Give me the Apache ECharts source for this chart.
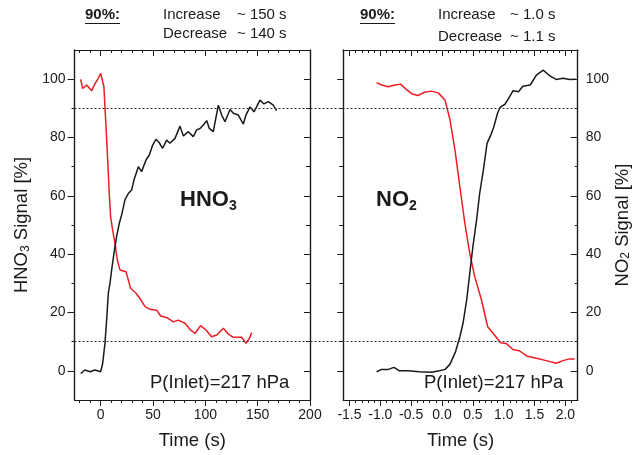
<!DOCTYPE html>
<html>
<head>
<meta charset="utf-8">
<script src="https://cdn.jsdelivr.net/npm/echarts@6/dist/echarts.min.js"></script>
<style>html,body{margin:0;padding:0;background:#fff;}#c{width:633px;height:455px;}</style>
</head>
<body>
<div id="c"></div>
<script>
// ---- data ----
const hno3DecT = [-19.1,-17.2,-13.4,-8.6,-5.4,-2.3,0,1.9,3.1,5.1,6.7,8.2,9.5,11.4,13.7,15.9,18.4,24.2,28.6,33.8,37.6,42.4,47.1,53.5,57.3,63,69.4,74.2,80.6,85.4,90.1,95.5,100.6,106,110.8,117.2,122,126.8,134.7,138.8,142,144.3];
const hno3DecV = [99.9,96.8,98,96,98.5,100.3,102,101.4,97.4,83.7,72.3,60.8,52.8,48.3,43.7,38,34.6,34,28.3,26.6,24.8,22,21.1,20.8,18.8,18.3,16.8,17.4,16.3,14.2,12.8,15.5,14,11.7,12.3,14.6,12.6,11.5,11.5,9.4,11.1,13.1];
const hno3IncT = [-19.1,-15,-10.2,-5.4,0,1.9,4.1,5.7,7.3,8.9,10.5,12.7,15.2,17.8,20,23.2,26.4,29.6,31.8,36,39.1,43.3,46.5,49.7,52.8,56,59.2,63,66.2,71,75.8,79,83.7,88.5,91.7,94.9,98.1,101.3,103.8,107.6,112.4,115.6,118.8,123.6,126.8,131.5,136.3,138.8,142.7,146.5,152.2,156,160.2,164.9,168.1];
const hno3IncV = [-0.9,0.3,-0.3,0.3,-0.3,2.5,9.4,17.4,26.6,30,34.6,40.3,46,50.6,53.4,58.6,60.8,62,65.4,70,68.3,72.3,74,77.4,79.4,78.2,76.3,79.1,78,79.7,83.9,80.5,82,80.3,82.6,83.1,84.3,85.8,83.1,82,91.1,87.7,85.4,89.6,88.3,87.7,84.6,87.7,90.5,88.8,92.8,91.5,92.3,91.1,89.2];
const no2DecT = [-1.06,-0.98,-0.87,-0.76,-0.67,-0.57,-0.48,-0.39,-0.29,-0.17,-0.06,0.05,0.13,0.21,0.29,0.37,0.45,0.53,0.64,0.74,0.85,0.95,1.04,1.15,1.26,1.37,1.53,1.69,1.85,1.96,2.07,2.15];
const no2DecV = [98.8,98,97.4,98,98.3,96.3,94.9,94.4,95.5,95.9,95.3,92.8,86,75.7,63.1,50.6,40.3,32.3,24.3,15.1,12.3,9.6,9.4,7.3,6.8,5.1,4.3,3.5,2.6,3.5,4.1,4.1];
const no2IncT = [-1.06,-0.98,-0.87,-0.78,-0.69,-0.55,-0.37,-0.17,-0.04,0.05,0.13,0.22,0.29,0.34,0.40,0.45,0.50,0.56,0.61,0.67,0.73,0.79,0.84,0.90,0.94,1.02,1.08,1.15,1.24,1.31,1.43,1.53,1.64,1.75,1.85,1.96,2.07,2.17];
const no2IncV = [-0.3,0.5,0.5,1.2,0,0,-0.3,-0.5,0,0.5,2.3,6.6,11.7,16.3,24.3,33.4,42.5,51.7,60.8,68.8,78,80.8,83.7,88.3,90.3,91.4,93.4,96,95.7,97.6,98,101.4,103.1,101.1,99.9,100.3,99.9,100];
const refLevels = [90, 10];

const leftMajorX = [0,50,100,150,200];
const leftMinorX = [-20,-10,10,20,30,40,60,70,80,90,110,120,130,140,160,170,180,190];
const rightMajorX = [-1.5,-1.0,-0.5,0.0,0.5,1.0,1.5,2.0];
const rightMinorX = [-1.4,-1.3,-1.2,-1.1,-0.9,-0.8,-0.7,-0.6,-0.4,-0.3,-0.2,-0.1,0.1,0.2,0.3,0.4,0.6,0.7,0.8,0.9,1.1,1.2,1.3,1.4,1.6,1.7,1.8,1.9,2.1];
const majorY = [0,20,40,60,80,100];
const minorY = [10,30,50,70,90];

// ---- chart ----
const FONT = 'Liberation Sans, Arial, sans-serif';
const INK = '#1a1a1a';
const RED = '#ee1c24';
const zip = (a, b) => a.map((v, i) => [v, b[i]]);

function tickAxis(grid, pos, range, ticks, len, inside, labels, extra) {
  return Object.assign({
    type: 'value', gridIndex: grid, position: pos, min: range[0], max: range[1],
    axisLine: { show: true, onZero: false, lineStyle: { color: INK, width: 1.2 } },
    axisTick: { show: true, inside: inside, length: len, customValues: ticks, lineStyle: { color: INK, width: 1 } },
    axisLabel: labels ? Object.assign({ show: true, customValues: ticks, color: INK, fontSize: 14, fontFamily: FONT }, labels) : { show: false },
    splitLine: { show: false }
  }, extra || {});
}

const gL = { left: 74.5, top: 50, width: 235.5, height: 350 };
const gR = { left: 343.3, top: 50, width: 235, height: 350 };
const gAll = { left: 74.5, top: 50, width: 504, height: 350 };
const xL = [-25, 200], xR = [-1.6, 2.2], yR = [-10, 110];

const nameStyle = { fontSize: 18.5, fontFamily: FONT, color: INK, rich: { sub: { fontSize: 12, fontFamily: FONT, color: INK, verticalAlign: 'bottom', padding: [7, 0, 0, 0] } } };

const xAxes = [
  tickAxis(0, 'bottom', xL, leftMajorX, 6, false, { margin: 8 }, { name: 'Time (s)', nameLocation: 'middle', nameGap: 31, nameTextStyle: nameStyle }),
  tickAxis(0, 'bottom', xL, leftMinorX, 3, false, null),
  tickAxis(0, 'top', xL, leftMajorX, 6, true, null),
  tickAxis(0, 'top', xL, leftMinorX, 3, true, null),
  tickAxis(1, 'bottom', xR, rightMajorX, 6, false, { margin: 8, formatter: v => v.toFixed(1) }, { name: 'Time (s)', nameLocation: 'middle', nameGap: 31, nameTextStyle: nameStyle }),
  tickAxis(1, 'bottom', xR, rightMinorX, 3, false, null),
  tickAxis(1, 'top', xR, rightMajorX, 6, true, null),
  tickAxis(1, 'top', xR, rightMinorX, 3, true, null),
  { type: 'value', gridIndex: 2, min: 0, max: 1, show: false }
];
const yAxes = [
  tickAxis(0, 'left', yR, majorY, 7, false, { margin: 9 }, { name: 'HNO{sub|3} Signal [%]', nameLocation: 'middle', nameGap: 43, nameTextStyle: nameStyle }),
  tickAxis(0, 'left', yR, minorY, 3, false, null),
  tickAxis(0, 'right', yR, majorY, 6, true, null),
  tickAxis(0, 'right', yR, minorY, 4, true, null),
  tickAxis(1, 'left', yR, majorY, 6, false, null),
  tickAxis(1, 'left', yR, minorY, 4, false, null),
  tickAxis(1, 'right', yR, majorY, 7, true, { margin: 8 }, { name: 'NO{sub|2} Signal [%]', nameLocation: 'middle', nameGap: 33, nameRotate: 90, nameTextStyle: nameStyle }),
  tickAxis(1, 'right', yR, minorY, 3, true, null),
  { type: 'value', gridIndex: 2, min: yR[0], max: yR[1], show: false }
];

function line(xi, yi, data, color) {
  return { type: 'line', xAxisIndex: xi, yAxisIndex: yi, data: data, showSymbol: false, symbol: 'none', silent: true, animation: false,
    lineStyle: { color: color, width: 1.5 } };
}

const txt = { fontSize: 15, fontFamily: FONT, fill: INK };
const big = { fontSize: 22, fontWeight: 'bold', fontFamily: FONT, fill: INK,
  rich: { s: { fontSize: 14, fontWeight: 'bold', fontFamily: FONT, fill: INK, padding: [13, 0, 0, 0] } } };
const option = {
  animation: false,
  backgroundColor: '#fff',
  grid: [gL, gR, gAll],
  xAxis: xAxes,
  yAxis: yAxes,
  series: [
    line(0, 0, zip(hno3DecT, hno3DecV), RED),
    line(0, 0, zip(hno3IncT, hno3IncV), INK),
    line(4, 6, zip(no2DecT, no2DecV), RED),
    line(4, 6, zip(no2IncT, no2IncV), INK),
    { type: 'line', xAxisIndex: 8, yAxisIndex: 8, data: [], silent: true,
      markLine: { silent: true, symbol: 'none', label: { show: false }, animation: false,
        lineStyle: { color: '#333', type: [2, 2], width: 1 },
        data: refLevels.map(v => ({ yAxis: v })) } }
  ],
  graphic: [
    { type: 'text', left: 85, top: 7, style: Object.assign({}, txt, { text: '90%:', fontWeight: 'bold' }) },
    { type: 'line', shape: { x1: 85, y1: 23.5, x2: 120, y2: 23.5 }, style: { stroke: INK, lineWidth: 1 } },
    { type: 'text', left: 163, top: 7, style: Object.assign({}, txt, { text: 'Increase' }) },
    { type: 'text', left: 237, top: 7, style: Object.assign({}, txt, { text: '~ 150 s' }) },
    { type: 'text', left: 163, top: 26, style: Object.assign({}, txt, { text: 'Decrease' }) },
    { type: 'text', left: 237, top: 26, style: Object.assign({}, txt, { text: '~ 140 s' }) },
    { type: 'text', left: 360, top: 7, style: Object.assign({}, txt, { text: '90%:', fontWeight: 'bold' }) },
    { type: 'line', shape: { x1: 360, y1: 23.5, x2: 395, y2: 23.5 }, style: { stroke: INK, lineWidth: 1 } },
    { type: 'text', left: 438, top: 7, style: Object.assign({}, txt, { text: 'Increase' }) },
    { type: 'text', left: 510, top: 7, style: Object.assign({}, txt, { text: '~ 1.0 s' }) },
    { type: 'text', left: 438, top: 29, style: Object.assign({}, txt, { text: 'Decrease' }) },
    { type: 'text', left: 510, top: 29, style: Object.assign({}, txt, { text: '~ 1.1 s' }) },
    { type: 'text', left: 180, top: 189, style: Object.assign({ text: 'HNO{s|3}' }, big) },
    { type: 'text', left: 376, top: 189, style: Object.assign({ text: 'NO{s|2}' }, big) },
    { type: 'text', left: 150, top: 373, style: { text: 'P(Inlet)=217 hPa', fontSize: 18.5, fontFamily: FONT, fill: INK } },
    { type: 'text', left: 424, top: 373, style: { text: 'P(Inlet)=217 hPa', fontSize: 18.5, fontFamily: FONT, fill: INK } }
  ]
};
const chart = echarts.init(document.getElementById('c'), null, { renderer: 'canvas' });
chart.setOption(option);
</script>
</body>
</html>
